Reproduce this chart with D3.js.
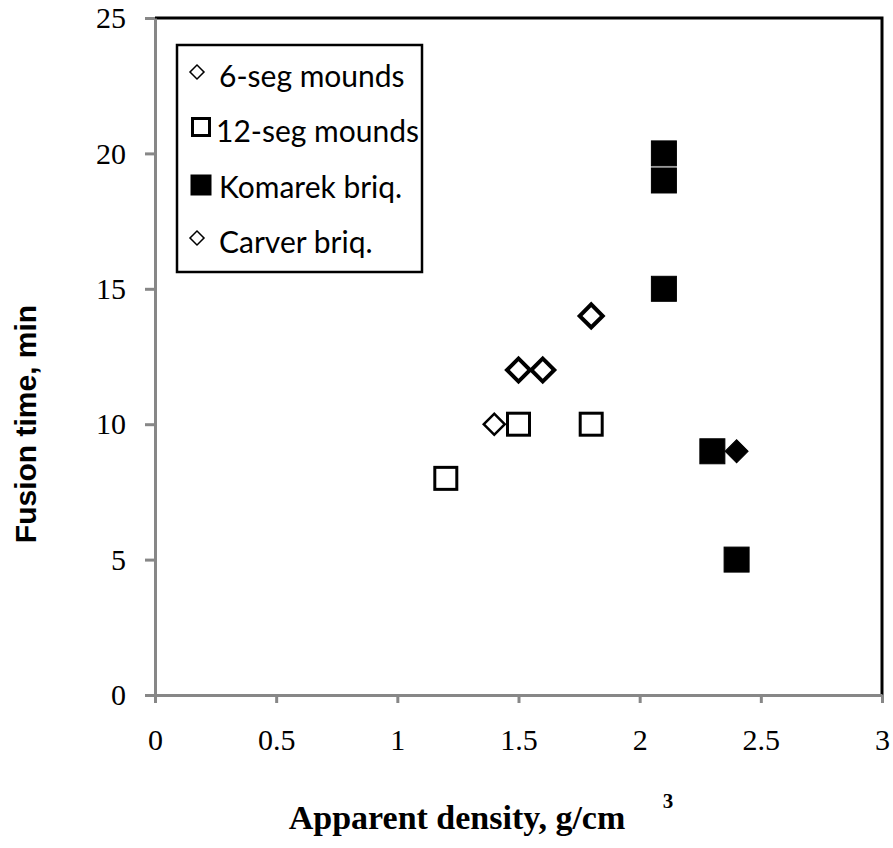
<!DOCTYPE html>
<html><head><meta charset="utf-8">
<script src="https://cdn.jsdelivr.net/npm/d3@7"></script>
<style>body{margin:0;background:#fff}svg{display:block}</style>
</head><body>
<svg id="c" width="893" height="848"></svg>
<script>
// ---- data ----
const legendNames = ["6-seg mounds", "12-seg mounds", "Komarek briq.", "Carver briq."];
const sixSegX = [1.4];
const sixSegY = [10];
const twelveSegX = [1.2, 1.5, 1.8];
const twelveSegY = [8, 10, 10];
const komarekX = [2.1, 2.1, 2.1, 2.3, 2.4];
const komarekY = [20, 19, 15, 9, 5];
const carverX = [1.5, 1.6, 1.8];
const carverY = [12, 12, 14];
const filledDiamondX = [2.4];
const filledDiamondY = [9];
const xTicks = [0, 0.5, 1, 1.5, 2, 2.5, 3];
const yTicks = [0, 5, 10, 15, 20, 25];

const svg = d3.select("#c");
const x = d3.scaleLinear().domain([0, 3]).range([155, 882]);
const y = d3.scaleLinear().domain([0, 25]).range([695, 18]);
const gray = "#878787";

// plot border top/right (black)
svg.append("path")
  .attr("d", `M${x(0)},${y(25)}H${x(3)}V${y(0)}`)
  .attr("fill", "none").attr("stroke", "#000").attr("stroke-width", 3);

// axes
const ya = svg.append("g").attr("transform", `translate(${x(0)},0)`)
  .call(d3.axisLeft(y).tickValues(yTicks).tickSize(10).tickPadding(19).tickSizeOuter(0).tickFormat(d3.format("d")));
const xa = svg.append("g").attr("transform", `translate(0,${y(0)})`)
  .call(d3.axisBottom(x).tickValues(xTicks).tickSize(8).tickPadding(26).tickSizeOuter(0).tickFormat(d => String(d)));
[ya, xa].forEach(g => {
  g.select(".domain").attr("stroke", gray).attr("stroke-width", 3);
  g.selectAll(".tick line").attr("stroke", gray).attr("stroke-width", 3);
  g.selectAll(".tick text").attr("fill", "#000")
    .style("font-family", "'Liberation Serif','Times New Roman',serif").style("font-size", "30px");
});

// markers
function diamond(sel, cx, cy, diag, sw, filled) {
  const s = diag / Math.SQRT2;
  sel.append("rect")
    .attr("x", -s / 2).attr("y", -s / 2).attr("width", s).attr("height", s)
    .attr("transform", `translate(${cx},${cy}) rotate(45)`)
    .attr("fill", filled ? "#000" : "#fff").attr("stroke", "#000").attr("stroke-width", sw);
}
function square(sel, cx, cy, size, sw, filled) {
  sel.append("rect")
    .attr("x", cx - size / 2).attr("y", cy - size / 2).attr("width", size).attr("height", size)
    .attr("fill", filled ? "#000" : "#fff").attr("stroke", "#000").attr("stroke-width", sw);
}
const m = svg.append("g");
twelveSegX.forEach((d, i) => square(m, x(d), y(twelveSegY[i]), 22, 3, false));
sixSegX.forEach((d, i) => diamond(m, x(d), y(sixSegY[i]), 21, 2.5, false));
carverX.forEach((d, i) => diamond(m, x(d), y(carverY[i]), 23, 4, false));
komarekX.forEach((d, i) => square(m, x(d), y(komarekY[i]), 25, 1, true));
filledDiamondX.forEach((d, i) => diamond(m, x(d), y(filledDiamondY[i]), 23, 1, true));

// legend
const lg = svg.append("g");
lg.append("rect").attr("x", 177).attr("y", 45).attr("width", 245).attr("height", 227)
  .attr("fill", "#fff").attr("stroke", "#000").attr("stroke-width", 2.5);
const rowBase = [87, 142, 198, 253];
legendNames.forEach((name, i) => {
  const b = rowBase[i];
  if (i === 0 || i === 3) diamond(lg, 197, b - 15, 14, 1.5, false);
  else if (i === 1) square(lg, 201, b - 15, 17, 3, false);
  else square(lg, 201, b - 13, 20, 1, true);
  lg.append("text").attr("x", i === 1 ? 216 : 219).attr("y", b).text(name)
    .style("font-family", "Lato, 'Open Sans', sans-serif").style("font-size", "30px").attr("fill", "#000");
});

// axis titles
svg.append("text").attr("x", 457).attr("y", 829).attr("text-anchor", "middle")
  .style("font-family", "'Liberation Serif','Times New Roman',serif").style("font-size", "34px").style("font-weight", "bold")
  .text("Apparent density, g/cm");
svg.append("text").attr("x", 668).attr("y", 808).attr("text-anchor", "middle")
  .style("font-family", "'Liberation Serif','Times New Roman',serif").style("font-size", "21px").style("font-weight", "bold")
  .text("3");
svg.append("text").attr("transform", "translate(36,424) rotate(-90)").attr("text-anchor", "middle")
  .style("font-family", "'Liberation Sans',Arial,sans-serif").style("font-size", "30px").style("font-weight", "bold")
  .text("Fusion time, min");
</script>
</body></html>
